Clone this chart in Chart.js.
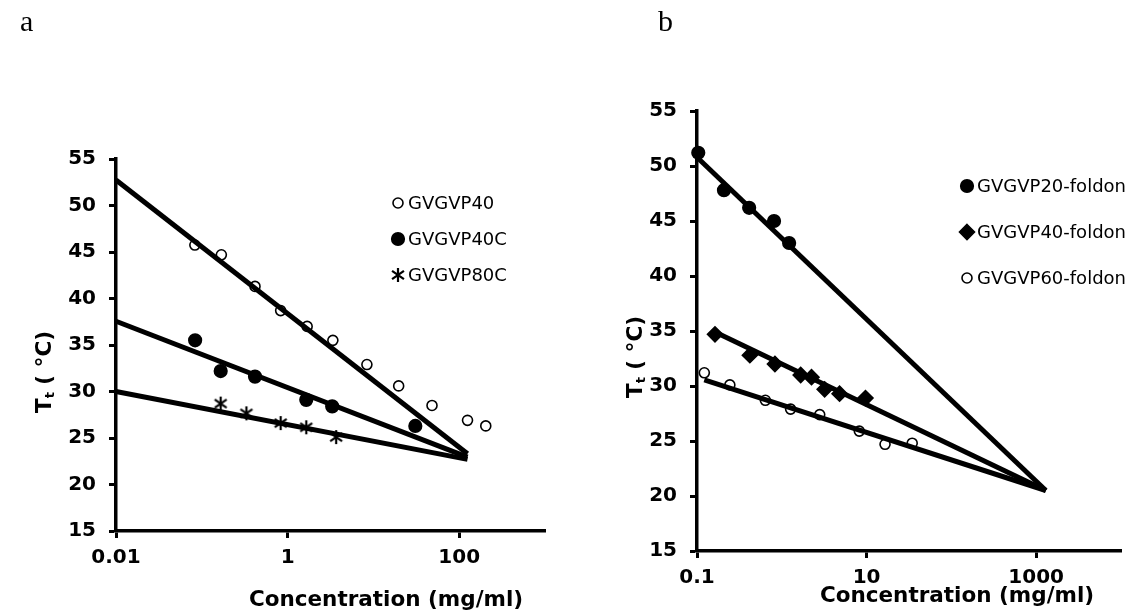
<!DOCTYPE html>
<html><head><meta charset="utf-8">
<script src="https://cdn.jsdelivr.net/npm/chart.js@4.4.1/dist/chart.umd.min.js"></script>
<style>
html,body{margin:0;padding:0;background:#fff;}
#wrap{position:relative;width:1134px;height:610px;overflow:hidden;background:#fff;}
.panel{position:absolute;top:0;width:567px;height:610px;}
</style></head><body>
<div id="wrap">
<div class="panel" style="left:0"><canvas id="ca" width="567" height="610"></canvas></div>
<div class="panel" style="left:567px"><canvas id="cb" width="567" height="610"></canvas></div>
</div>
<script>
// ---------- Panel a data ----------
const a_names = ['GVGVP40', 'GVGVP40C', 'GVGVP80C'];
const a_p40_x = [0.083, 0.169, 0.417, 0.83, 1.69, 3.37, 8.4, 19.7, 48.2, 125, 204];
const a_p40_y = [45.75, 44.7, 41.3, 38.7, 37.0, 35.5, 32.9, 30.6, 28.5, 26.9, 26.3];
const a_p40c_x = [0.0836, 0.166, 0.417, 1.65, 3.31, 30.8];
const a_p40c_y = [35.5, 32.2, 31.6, 29.1, 28.4, 26.3];
const a_p80c_x = [0.166, 0.331, 0.83, 1.65, 3.68];
const a_p80c_y = [28.7, 27.65, 26.6, 26.15, 25.1];
const a_fit_x = [0.01, 125];
const a_fit40_y = [52.75, 23.3];
const a_fit40c_y = [37.55, 22.95];
const a_fit80c_y = [30.0, 22.7];
const a_xTicks = [0.01, 1, 100];
const a_xTickLabels = ['0.01', '1', '100'];

// ---------- Panel b data ----------
const b_names = ['GVGVP20-foldon', 'GVGVP40-foldon', 'GVGVP60-foldon'];
const b_p20_x = [0.1035, 0.208, 0.412, 0.81, 1.22];
const b_p20_y = [51.2, 47.8, 46.2, 45.0, 43.0];
const b_p40_x = [0.163, 0.42, 0.83, 1.67, 2.24, 3.2, 4.8, 9.7];
const b_p40_y = [34.7, 32.8, 32.0, 31.0, 30.8, 29.7, 29.3, 28.9];
const b_p60_x = [0.122, 0.244, 0.64, 1.27, 2.8, 8.2, 16.5, 34.5];
const b_p60_y = [31.2, 30.1, 28.7, 27.9, 27.4, 25.9, 24.7, 24.8];
const b_fit20_x = [0.1, 1300];
const b_fit20_y = [50.8, 20.5];
const b_fit40_x = [0.163, 1300];
const b_fit40_y = [34.9, 20.5];
const b_fit60_x = [0.122, 1300];
const b_fit60_y = [30.55, 20.5];
const b_xTicks = [0.1, 10, 1000];
const b_xTickLabels = ['0.1', '10', '1000'];

const yMin = 15, yMax = 55, yStep = 5;

// ---------- helpers ----------
const pts = (xs, ys) => xs.map((x, i) => ({x: x, y: ys[i]}));

function starMarker(size, lw) {
  const c = document.createElement('canvas');
  c.width = size; c.height = size;
  const g = c.getContext('2d');
  g.strokeStyle = '#000'; g.lineWidth = lw; g.lineCap = 'butt';
  const m = size / 2, r = size / 2 - 1;
  g.beginPath();
  g.moveTo(m, m - r); g.lineTo(m, m + r);
  g.moveTo(m - r * 0.85, m - r * 0.6); g.lineTo(m + r * 0.85, m + r * 0.6);
  g.moveTo(m + r * 0.85, m - r * 0.6); g.lineTo(m - r * 0.85, m + r * 0.6);
  g.stroke();
  return c;
}
const STAR = starMarker(16, 2.2);

function pointDS(label, data, style, radius, fill) {
  return {
    label: label, data: data, showLine: false, order: 1,
    pointStyle: style, pointRadius: radius, pointHoverRadius: radius,
    pointBackgroundColor: fill, pointBorderColor: '#000', pointBorderWidth: 1.6,
    backgroundColor: fill, borderColor: '#000', clip: false
  };
}
function fitDS(data) {
  return {
    label: '', data: data, showLine: true, order: 0, pointRadius: 0, pointHoverRadius: 0,
    borderColor: '#000', borderWidth: 5, borderCapStyle: 'butt', fill: false, clip: false
  };
}

function drawMarker(ctx, style, r, fill, x, y) {
  ctx.save();
  ctx.fillStyle = fill; ctx.strokeStyle = '#000'; ctx.lineWidth = 1.6;
  if (style instanceof HTMLCanvasElement) {
    ctx.drawImage(style, x - style.width / 2, y - style.height / 2);
  } else if (style === 'rectRot') {
    ctx.beginPath();
    ctx.moveTo(x, y - r); ctx.lineTo(x + r, y); ctx.lineTo(x, y + r); ctx.lineTo(x - r, y); ctx.closePath();
    ctx.fill(); ctx.stroke();
  } else {
    ctx.beginPath(); ctx.arc(x, y, r, 0, Math.PI * 2); ctx.fill(); ctx.stroke();
  }
  ctx.restore();
}

const legendPlugin = {
  id: 'customLegend',
  afterDraw(chart, args, opts) {
    const ctx = chart.ctx;
    ctx.save();
    ctx.font = opts.font; ctx.fillStyle = '#000'; ctx.textAlign = 'left'; ctx.textBaseline = 'middle';
    opts.items.forEach((idx, i) => {
      const ds = chart.data.datasets[idx];
      const y = opts.y + i * opts.dy;
      drawMarker(ctx, ds.pointStyle, ds.pointRadius, ds.pointBackgroundColor, opts.mx, y);
      ctx.fillText(ds.label, opts.tx, y + 1);
    });
    ctx.restore();
  }
};

const textPlugin = {
  id: 'texts',
  afterDraw(chart, args, opts) {
    const ctx = chart.ctx;
    opts.items.forEach(t => {
      ctx.save();
      ctx.translate(t.x, t.y);
      ctx.rotate(t.rot || 0);
      ctx.fillStyle = '#000';
      ctx.textBaseline = t.baseline || 'middle';
      const parts = t.parts;
      let total = 0;
      parts.forEach(p => { ctx.font = p.font; p.w = ctx.measureText(p.text).width; total += p.w; });
      let cx = t.align === 'left' ? 0 : -total / 2;
      ctx.textAlign = 'left';
      parts.forEach(p => { ctx.font = p.font; ctx.fillText(p.text, cx, p.dy || 0); cx += p.w; });
      ctx.restore();
    });
  }
};

const TICKFONT = {family: "'DejaVu Sans', Verdana, sans-serif", size: 20, weight: 'bold'};
const BOLD = "bold 21.5px 'DejaVu Sans', sans-serif";
const SMALLBOLD = "bold 13px 'DejaVu Sans', sans-serif";
const LEG = "18px 'DejaVu Sans', sans-serif";
const SERIF = "30px 'Liberation Serif', 'Times New Roman', serif";

function yTitle(x, y) {
  return {x: x, y: y, rot: -Math.PI / 2, parts: [
    {text: 'T', font: BOLD},
    {text: 't', font: SMALLBOLD, dy: 6},
    {text: ' ( \u00B0C)', font: BOLD}
  ]};
}

function makeChart(id, o) {
  return new Chart(document.getElementById(id), {
    type: 'scatter',
    data: {datasets: o.datasets},
    plugins: [legendPlugin, textPlugin],
    options: {
      responsive: false, animation: false, devicePixelRatio: 1, events: [],
      layout: {padding: {left: 0, right: o.padRight, top: o.padTop, bottom: 0}},
      plugins: {
        legend: {display: false}, tooltip: {enabled: false},
        customLegend: o.legend,
        texts: {items: o.texts}
      },
      scales: {
        x: {
          type: 'logarithmic', min: o.xMin, max: o.xMax,
          afterBuildTicks: ax => { ax.ticks = o.xTicks.map(v => ({value: v})); },
          afterFit: s => { s.height = o.xAxisH; },
          ticks: {callback: (v, i) => o.xTickLabels[i], font: TICKFONT, color: '#000', padding: 8, maxRotation: 0, autoSkip: false},
          grid: {drawOnChartArea: false, drawTicks: true, tickLength: 7, tickWidth: 3, tickColor: '#000'},
          border: {display: true, color: '#000', width: 3.5}
        },
        y: {
          type: 'linear', min: yMin, max: yMax,
          afterFit: s => { s.width = o.yAxisW; },
          ticks: {stepSize: yStep, font: TICKFONT, color: '#000', padding: 13},
          grid: {drawOnChartArea: false, drawTicks: true, tickLength: 7, tickWidth: 3, tickColor: '#000'},
          border: {display: true, color: '#000', width: 3.5}
        }
      }
    }
  });
}

// ---------- Panel a ----------
makeChart('ca', {
  datasets: [
    pointDS(a_names[0], pts(a_p40_x, a_p40_y), 'circle', 5, '#fff'),
    pointDS(a_names[1], pts(a_p40c_x, a_p40c_y), 'circle', 6.3, '#000'),
    pointDS(a_names[2], pts(a_p80c_x, a_p80c_y), STAR, 7, '#000'),
    fitDS(pts(a_fit_x, a_fit40_y)),
    fitDS(pts(a_fit_x, a_fit40c_y)),
    fitDS(pts(a_fit_x, a_fit80c_y))
  ],
  xMin: 0.01, xMax: 1000, xTicks: a_xTicks, xTickLabels: a_xTickLabels,
  padRight: 22, padTop: 159, xAxisH: 79, yAxisW: 116,
  legend: {items: [0, 1, 2], mx: 398, tx: 408, y: 203, dy: 36, font: LEG},
  texts: [
    yTitle(45, 372),
    {x: 386, y: 600, parts: [{text: 'Concentration (mg/ml)', font: BOLD}]},
    {x: 20, y: 31, align: 'left', baseline: 'alphabetic', parts: [{text: 'a', font: SERIF}]}
  ]
});

// ---------- Panel b ----------
makeChart('cb', {
  datasets: [
    pointDS(b_names[0], pts(b_p20_x, b_p20_y), 'circle', 6.3, '#000'),
    pointDS(b_names[1], pts(b_p40_x, b_p40_y), 'rectRot', 7.5, '#000'),
    pointDS(b_names[2], pts(b_p60_x, b_p60_y), 'circle', 5, '#fff'),
    fitDS(pts(b_fit20_x, b_fit20_y)),
    fitDS(pts(b_fit40_x, b_fit40_y)),
    fitDS(pts(b_fit60_x, b_fit60_y))
  ],
  xMin: 0.1, xMax: 10000, xTicks: b_xTicks, xTickLabels: b_xTickLabels,
  padRight: 13, padTop: 111, xAxisH: 59, yAxisW: 130,
  legend: {items: [0, 1, 2], mx: 400, tx: 410, y: 186, dy: 46, font: LEG},
  texts: [
    yTitle(69, 357),
    {x: 390, y: 596, parts: [{text: 'Concentration (mg/ml)', font: BOLD}]},
    {x: 91, y: 31, align: 'left', baseline: 'alphabetic', parts: [{text: 'b', font: SERIF}]}
  ]
});
</script>
</body></html>
